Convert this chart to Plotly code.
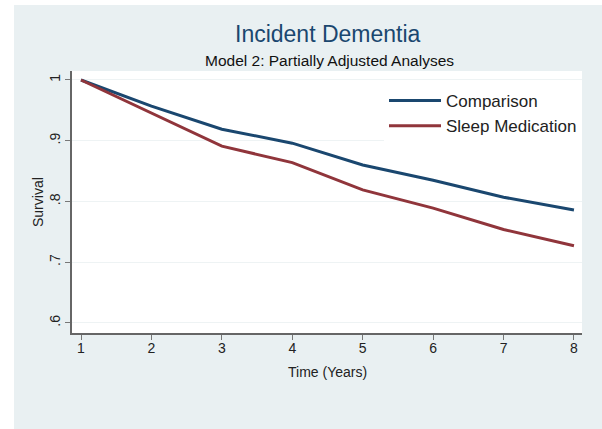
import plotly.graph_objects as go

years = [1, 2, 3, 4, 5, 6, 7, 8]
comparison = [1.0, 0.957, 0.919, 0.896, 0.860, 0.835, 0.807, 0.786]
sleep_med = [1.0, 0.945, 0.891, 0.864, 0.819, 0.789, 0.754, 0.727]
ytick_vals = [0.6, 0.7, 0.8, 0.9, 1.0]
ytick_text = [".6", ".7", ".8", ".9", "1"]

W, H = 602, 429
L, R, T, B = 72, 20, 71, 96
pw, ph = W - L - R, H - T - B

fig = go.Figure()
fig.add_trace(go.Scatter(x=years, y=comparison, mode="lines", name="Comparison",
                         line=dict(color="#1a476f", width=3)))
fig.add_trace(go.Scatter(x=years, y=sleep_med, mode="lines", name="Sleep Medication",
                         line=dict(color="#90353b", width=3)))

font = "Liberation Sans, Arial, sans-serif"
fig.update_layout(
    width=W, height=H,
    margin=dict(l=L, r=R, t=T, b=B, autoexpand=False),
    paper_bgcolor="#e9f0f2",
    plot_bgcolor="white",
    font=dict(family=font, color="#222222", size=14),
    showlegend=True,
    legend=dict(x=(384 - L) / pw, y=1 - (83 - T) / ph, xanchor="left", yanchor="top",
                bgcolor="white", font=dict(size=17, color="#222222"),
                tracegroupgap=0, itemwidth=52),
    xaxis=dict(range=[0.872, 8.114], tickvals=years, ticks="outside", ticklen=5,
               tickcolor="#777777", showline=True, linecolor="#666666", linewidth=1.5,
               showgrid=False, zeroline=False, tickfont=dict(size=14), automargin=False,
               ticklabelstandoff=-4),
    yaxis=dict(range=[0.5835, 1.0148], tickvals=ytick_vals, ticktext=ytick_text,
               tickangle=-90, ticks="outside", ticklen=5, tickcolor="#777777",
               showline=True, linecolor="#666666", linewidth=1.5,
               showgrid=True, gridcolor="#eef3f4", gridwidth=1, zeroline=False,
               tickfont=dict(size=14), automargin=False),
    shapes=[
        dict(type="rect", xref="paper", yref="paper", x0=-L / pw - 0.01, x1=(14 - L) / pw,
             y0=-B / ph - 0.01, y1=1 + T / ph + 0.01, fillcolor="white", line_width=0, layer="below"),
        dict(type="rect", xref="paper", yref="paper", x0=-L / pw - 0.01, x1=1 + R / pw + 0.01,
             y0=1 + (T - 5) / ph, y1=1 + T / ph + 0.01, fillcolor="white", line_width=0, layer="below"),
    ],
    annotations=[
        dict(text="Incident Dementia", xref="paper", yref="paper",
             x=(328 - L) / pw, y=1 + (T - 34) / ph, xanchor="center", yanchor="middle",
             showarrow=False, font=dict(size=23, color="#1a476f", family=font)),
        dict(text="Model 2: Partially Adjusted Analyses", xref="paper", yref="paper",
             x=(329 - L) / pw, y=1 + (T - 60) / ph, xanchor="center", yanchor="middle",
             showarrow=False, font=dict(size=15.5, color="#111111", family=font)),
        dict(text="Time (Years)", xref="paper", yref="paper",
             x=0.5, y=(H - B - 372) / ph, xanchor="center", yanchor="middle",
             showarrow=False, font=dict(size=14, color="#222222", family=font)),
        dict(text="Survival", xref="paper", yref="paper", textangle=-90,
             x=(38 - L) / pw, y=0.5, xanchor="center", yanchor="middle",
             showarrow=False, font=dict(size=14, color="#222222", family=font)),
    ],
)

fig.write_html("out.html", config={"displayModeBar": False},
               post_script="document.body.style.margin='0';document.body.style.overflow='hidden';")
